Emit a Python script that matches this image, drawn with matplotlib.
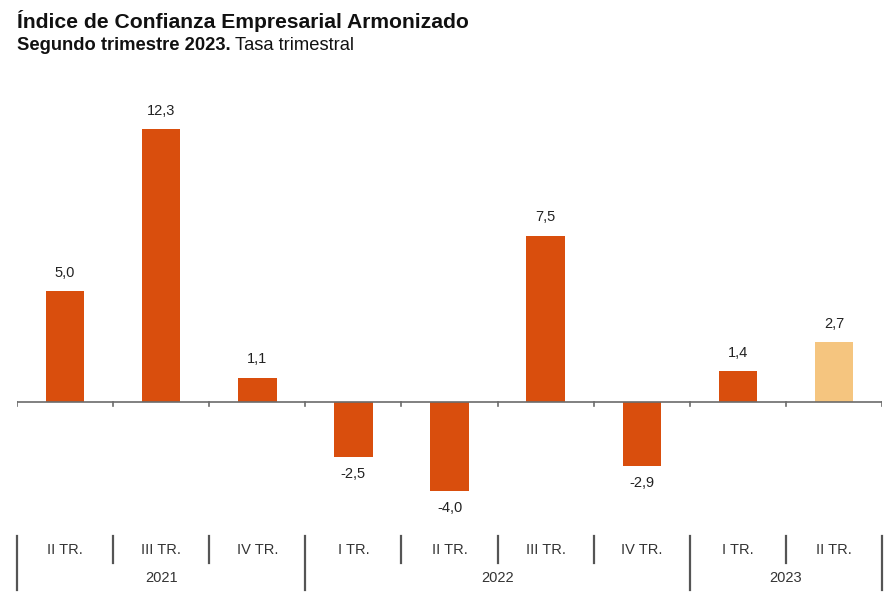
import matplotlib.pyplot as plt
import matplotlib.transforms as mtransforms

plt.rcParams['font.family'] = ['Liberation Sans', 'DejaVu Sans']

quarters = ['II TR.', 'III TR.', 'IV TR.', 'I TR.', 'II TR.', 'III TR.', 'IV TR.', 'I TR.', 'II TR.']
values = [5.0, 12.3, 1.1, -2.5, -4.0, 7.5, -2.9, 1.4, 2.7]
years = ['2021', '2022', '2023']
year_spans = [(0, 2), (3, 6), (7, 8)]

bar_color = '#D94E0D'
last_color = '#F5C57F'
colors = [bar_color] * (len(values) - 1) + [last_color]

fig = plt.figure(figsize=(8.88, 6.01), dpi=100)
W, H = 888, 601
x0, x1 = 17, 882
ytop, ybot = 100, 510
ax = fig.add_axes([x0 / W, 1 - ybot / H, (x1 - x0) / W, (ybot - ytop) / H])

xs = list(range(len(values)))
ax.bar(xs, values, width=0.4, color=colors, zorder=2)

ppu = 273 / 12.3
ax.set_xlim(-0.5, len(values) - 0.5)
ax.set_ylim(-(ybot - 402) / ppu, (402 - ytop) / ppu)
ax.axis('off')
ax.axhline(0, color='#6b6b6b', lw=1.2, zorder=3)

# tiny ticks on zero line at category boundaries
for b in range(len(values) + 1):
    ax.plot([b - 0.5, b - 0.5], [0, -0.18], color='#6b6b6b', lw=1.2, zorder=3)

for x, v in zip(xs, values):
    lab = f'{v:.1f}'.replace('.', ',')
    if v >= 0:
        ax.annotate(lab, (x, v), xytext=(0, 8), textcoords='offset points',
                    ha='center', va='bottom', fontsize=10.5, color='#222222')
    else:
        ax.annotate(lab, (x, v), xytext=(0, -7), textcoords='offset points',
                    ha='center', va='top', fontsize=10.5, color='#222222')

# category axis below the chart (figure-pixel y positions)
trans = mtransforms.blended_transform_factory(ax.transData, fig.transFigure)
def fy(p):
    return 1 - p / H

for x, q in zip(xs, quarters):
    fig.text(x, fy(550), q, transform=trans, ha='center', va='center',
             fontsize=10.5, color='#333333')

year_bounds = set()
for (a, b), yr in zip(year_spans, years):
    fig.text((a + b) / 2, fy(578), yr, transform=trans, ha='center',
             va='center', fontsize=10.5, color='#333333')
    year_bounds.add(a - 0.5)
    year_bounds.add(b + 0.5)

for b in range(len(values) + 1):
    bx = b - 0.5
    bottom = 590 if bx in year_bounds else 563
    fig.add_artist(plt.Line2D([bx, bx], [fy(536), fy(bottom)], transform=trans,
                              color='#555555', lw=1.6))

t = fig.text(17 / W, fy(21), 'Índice de Confianza Empresarial Armonizado',
             fontsize=15.2, fontweight='bold', color='#111111', va='center')
s = fig.text(17 / W, fy(45), 'Segundo trimestre 2023.', fontsize=13.2,
             fontweight='bold', color='#111111', va='center')
fig.add_artist(plt.Annotation('Tasa trimestral', xy=(1, 0.5), xycoords=s,
                              xytext=(3, 0), textcoords='offset points',
                              va='center', fontsize=13.2, color='#111111'))

fig.savefig('out.png', dpi=100)
